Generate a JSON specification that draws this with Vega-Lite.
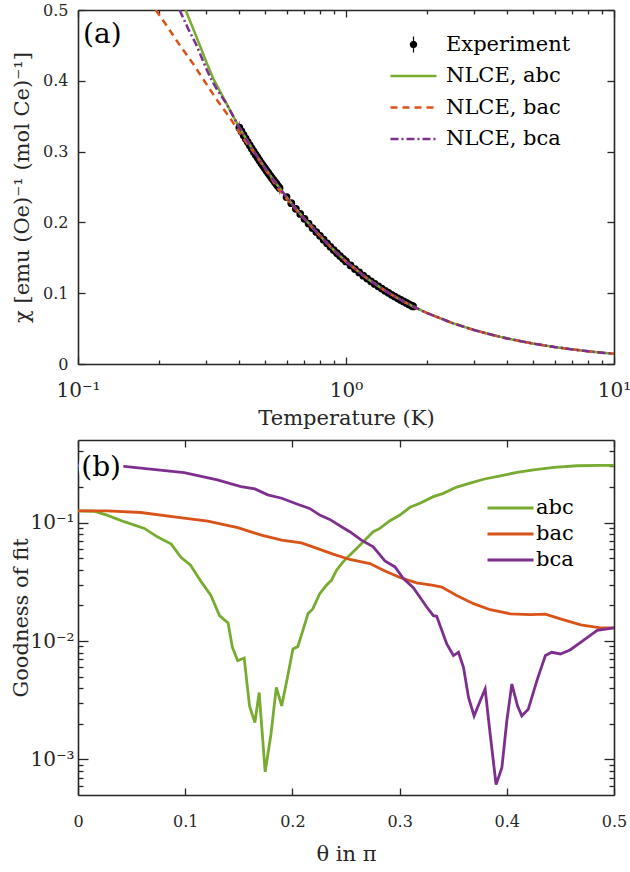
{
  "$schema": "https://vega.github.io/schema/vega-lite/v6.json",
  "background": "white",
  "padding": {"left": 10, "top": 2, "right": 12, "bottom": 0},
  "spacing": 11,
  "config": {
    "font": "DejaVu Serif",
    "view": {"stroke": null},
    "axis": {
      "labelFont": "DejaVu Serif", "titleFont": "DejaVu Serif",
      "labelColor": "#262626", "titleColor": "#262626",
      "domainColor": "#262626", "tickColor": "#262626",
      "domainWidth": 1.6, "tickWidth": 1.3,
      "labelFontSize": 16, "titleFontSize": 21, "titleFontWeight": "normal",
      "grid": false, "labelFlush": false, "labelOverlap": false, "labelBound": false
    },
    "legend": {"labelFont": "DejaVu Serif", "labelColor": "black"}
  },
  "resolve": {"scale": {"color": "independent", "strokeDash": "independent"}, "legend": {"color": "independent", "strokeDash": "independent"}},
  "datasets": {
    "fits": [
      {"T": 0.252, "chi": 0.5, "series": "NLCE, abc"},
      {"T": 0.27, "chi": 0.472, "series": "NLCE, abc"},
      {"T": 0.2845, "chi": 0.4506, "series": "NLCE, abc"},
      {"T": 0.30, "chi": 0.428, "series": "NLCE, abc"},
      {"T": 0.319, "chi": 0.404, "series": "NLCE, abc"},
      {"T": 0.34, "chi": 0.384, "series": "NLCE, abc"},
      {"T": 0.36, "chi": 0.3665, "series": "NLCE, abc"},
      {"T": 0.38, "chi": 0.3495, "series": "NLCE, abc"},
      {"T": 0.40, "chi": 0.3338, "series": "NLCE, abc"},
      {"T": 0.45, "chi": 0.302, "series": "NLCE, abc"},
      {"T": 0.50, "chi": 0.276, "series": "NLCE, abc"},
      {"T": 0.55, "chi": 0.2545, "series": "NLCE, abc"},
      {"T": 0.60, "chi": 0.2358, "series": "NLCE, abc"},
      {"T": 0.65, "chi": 0.2192, "series": "NLCE, abc"},
      {"T": 0.7, "chi": 0.205, "series": "NLCE, abc"},
      {"T": 0.8, "chi": 0.181, "series": "NLCE, abc"},
      {"T": 0.9, "chi": 0.1609, "series": "NLCE, abc"},
      {"T": 1.0, "chi": 0.1448, "series": "NLCE, abc"},
      {"T": 1.2, "chi": 0.1207, "series": "NLCE, abc"},
      {"T": 1.4, "chi": 0.1034, "series": "NLCE, abc"},
      {"T": 1.6, "chi": 0.0905, "series": "NLCE, abc"},
      {"T": 1.8, "chi": 0.0804, "series": "NLCE, abc"},
      {"T": 2.0, "chi": 0.0722, "series": "NLCE, abc"},
      {"T": 2.5, "chi": 0.0577, "series": "NLCE, abc"},
      {"T": 3.0, "chi": 0.0481, "series": "NLCE, abc"},
      {"T": 3.5, "chi": 0.0412, "series": "NLCE, abc"},
      {"T": 4.0, "chi": 0.036, "series": "NLCE, abc"},
      {"T": 5.0, "chi": 0.0288, "series": "NLCE, abc"},
      {"T": 6.0, "chi": 0.024, "series": "NLCE, abc"},
      {"T": 7.0, "chi": 0.0206, "series": "NLCE, abc"},
      {"T": 8.0, "chi": 0.018, "series": "NLCE, abc"},
      {"T": 9.0, "chi": 0.016, "series": "NLCE, abc"},
      {"T": 10, "chi": 0.0144, "series": "NLCE, abc"},

      {"T": 0.195, "chi": 0.5, "series": "NLCE, bac"},
      {"T": 0.215, "chi": 0.477, "series": "NLCE, bac"},
      {"T": 0.240, "chi": 0.45, "series": "NLCE, bac"},
      {"T": 0.27, "chi": 0.423, "series": "NLCE, bac"},
      {"T": 0.297, "chi": 0.399, "series": "NLCE, bac"},
      {"T": 0.33, "chi": 0.373, "series": "NLCE, bac"},
      {"T": 0.37, "chi": 0.347, "series": "NLCE, bac"},
      {"T": 0.41, "chi": 0.321, "series": "NLCE, bac"},
      {"T": 0.461, "chi": 0.295, "series": "NLCE, bac"},
      {"T": 0.51, "chi": 0.27, "series": "NLCE, bac"},
      {"T": 0.557, "chi": 0.248, "series": "NLCE, bac"},
      {"T": 0.60, "chi": 0.2335, "series": "NLCE, bac"},
      {"T": 0.65, "chi": 0.2185, "series": "NLCE, bac"},
      {"T": 0.7, "chi": 0.205, "series": "NLCE, bac"},
      {"T": 0.8, "chi": 0.181, "series": "NLCE, bac"},
      {"T": 0.9, "chi": 0.1609, "series": "NLCE, bac"},
      {"T": 1.0, "chi": 0.1448, "series": "NLCE, bac"},
      {"T": 1.2, "chi": 0.1207, "series": "NLCE, bac"},
      {"T": 1.4, "chi": 0.1034, "series": "NLCE, bac"},
      {"T": 1.6, "chi": 0.0905, "series": "NLCE, bac"},
      {"T": 1.8, "chi": 0.0804, "series": "NLCE, bac"},
      {"T": 2.0, "chi": 0.0722, "series": "NLCE, bac"},
      {"T": 2.5, "chi": 0.0577, "series": "NLCE, bac"},
      {"T": 3.0, "chi": 0.0481, "series": "NLCE, bac"},
      {"T": 3.5, "chi": 0.0412, "series": "NLCE, bac"},
      {"T": 4.0, "chi": 0.036, "series": "NLCE, bac"},
      {"T": 5.0, "chi": 0.0288, "series": "NLCE, bac"},
      {"T": 6.0, "chi": 0.024, "series": "NLCE, bac"},
      {"T": 7.0, "chi": 0.0206, "series": "NLCE, bac"},
      {"T": 8.0, "chi": 0.018, "series": "NLCE, bac"},
      {"T": 9.0, "chi": 0.016, "series": "NLCE, bac"},
      {"T": 10, "chi": 0.0144, "series": "NLCE, bac"},

      {"T": 0.2394, "chi": 0.5, "series": "NLCE, bca"},
      {"T": 0.258, "chi": 0.473, "series": "NLCE, bca"},
      {"T": 0.2766, "chi": 0.4506, "series": "NLCE, bca"},
      {"T": 0.295, "chi": 0.425, "series": "NLCE, bca"},
      {"T": 0.312, "chi": 0.404, "series": "NLCE, bca"},
      {"T": 0.33, "chi": 0.388, "series": "NLCE, bca"},
      {"T": 0.36, "chi": 0.366, "series": "NLCE, bca"},
      {"T": 0.40, "chi": 0.3338, "series": "NLCE, bca"},
      {"T": 0.45, "chi": 0.302, "series": "NLCE, bca"},
      {"T": 0.50, "chi": 0.276, "series": "NLCE, bca"},
      {"T": 0.55, "chi": 0.2545, "series": "NLCE, bca"},
      {"T": 0.60, "chi": 0.2358, "series": "NLCE, bca"},
      {"T": 0.65, "chi": 0.2192, "series": "NLCE, bca"},
      {"T": 0.7, "chi": 0.205, "series": "NLCE, bca"},
      {"T": 0.8, "chi": 0.181, "series": "NLCE, bca"},
      {"T": 0.9, "chi": 0.1609, "series": "NLCE, bca"},
      {"T": 1.0, "chi": 0.1448, "series": "NLCE, bca"},
      {"T": 1.2, "chi": 0.1207, "series": "NLCE, bca"},
      {"T": 1.4, "chi": 0.1034, "series": "NLCE, bca"},
      {"T": 1.6, "chi": 0.0905, "series": "NLCE, bca"},
      {"T": 1.8, "chi": 0.0804, "series": "NLCE, bca"},
      {"T": 2.0, "chi": 0.0722, "series": "NLCE, bca"},
      {"T": 2.5, "chi": 0.0577, "series": "NLCE, bca"},
      {"T": 3.0, "chi": 0.0481, "series": "NLCE, bca"},
      {"T": 3.5, "chi": 0.0412, "series": "NLCE, bca"},
      {"T": 4.0, "chi": 0.036, "series": "NLCE, bca"},
      {"T": 5.0, "chi": 0.0288, "series": "NLCE, bca"},
      {"T": 6.0, "chi": 0.024, "series": "NLCE, bca"},
      {"T": 7.0, "chi": 0.0206, "series": "NLCE, bca"},
      {"T": 8.0, "chi": 0.018, "series": "NLCE, bca"},
      {"T": 9.0, "chi": 0.016, "series": "NLCE, bca"},
      {"T": 10, "chi": 0.0144, "series": "NLCE, bca"}
    ],
    "expt": [
      {"T": 0.400, "chi": 0.3338, "err": 0.009, "series": "Experiment"},
      {"T": 0.4075, "chi": 0.3284, "err": 0.009, "series": "Experiment"},
      {"T": 0.415, "chi": 0.3232, "err": 0.009, "series": "Experiment"},
      {"T": 0.4225, "chi": 0.3182, "err": 0.009, "series": "Experiment"},
      {"T": 0.430, "chi": 0.3134, "err": 0.009, "series": "Experiment"},
      {"T": 0.4375, "chi": 0.3088, "err": 0.009, "series": "Experiment"},
      {"T": 0.445, "chi": 0.3043, "err": 0.009, "series": "Experiment"},
      {"T": 0.4525, "chi": 0.2999, "err": 0.009, "series": "Experiment"},
      {"T": 0.460, "chi": 0.2957, "err": 0.009, "series": "Experiment"},
      {"T": 0.4675, "chi": 0.2917, "err": 0.009, "series": "Experiment"},
      {"T": 0.475, "chi": 0.2877, "err": 0.009, "series": "Experiment"},
      {"T": 0.4825, "chi": 0.2839, "err": 0.009, "series": "Experiment"},
      {"T": 0.490, "chi": 0.2802, "err": 0.009, "series": "Experiment"},
      {"T": 0.4975, "chi": 0.2767, "err": 0.009, "series": "Experiment"},
      {"T": 0.505, "chi": 0.2732, "err": 0.009, "series": "Experiment"},
      {"T": 0.5125, "chi": 0.2698, "err": 0.009, "series": "Experiment"},
      {"T": 0.520, "chi": 0.2665, "err": 0.009, "series": "Experiment"},
      {"T": 0.5275, "chi": 0.2633, "err": 0.009, "series": "Experiment"},
      {"T": 0.535, "chi": 0.2602, "err": 0.009, "series": "Experiment"},
      {"T": 0.5425, "chi": 0.2572, "err": 0.009, "series": "Experiment"},
      {"T": 0.550, "chi": 0.2543, "err": 0.009, "series": "Experiment"},
      {"T": 0.5575, "chi": 0.2514, "err": 0.009, "series": "Experiment"},
      {"T": 0.565, "chi": 0.2487, "err": 0.009, "series": "Experiment"},
      {"T": 0.600, "chi": 0.2358, "err": 0.004, "series": "Experiment"},
      {"T": 0.625, "chi": 0.2272, "err": 0.004, "series": "Experiment"},
      {"T": 0.650, "chi": 0.2192, "err": 0.004, "series": "Experiment"},
      {"T": 0.675, "chi": 0.2119, "err": 0.004, "series": "Experiment"},
      {"T": 0.700, "chi": 0.2050, "err": 0.004, "series": "Experiment"},
      {"T": 0.725, "chi": 0.1983, "err": 0.004, "series": "Experiment"},
      {"T": 0.750, "chi": 0.1920, "err": 0.004, "series": "Experiment"},
      {"T": 0.775, "chi": 0.1863, "err": 0.004, "series": "Experiment"},
      {"T": 0.800, "chi": 0.1810, "err": 0.004, "series": "Experiment"},
      {"T": 0.825, "chi": 0.1755, "err": 0.004, "series": "Experiment"},
      {"T": 0.850, "chi": 0.1704, "err": 0.004, "series": "Experiment"},
      {"T": 0.875, "chi": 0.1655, "err": 0.004, "series": "Experiment"},
      {"T": 0.900, "chi": 0.1609, "err": 0.004, "series": "Experiment"},
      {"T": 0.925, "chi": 0.1565, "err": 0.004, "series": "Experiment"},
      {"T": 0.950, "chi": 0.1524, "err": 0.004, "series": "Experiment"},
      {"T": 0.975, "chi": 0.1485, "err": 0.004, "series": "Experiment"},
      {"T": 1.000, "chi": 0.1448, "err": 0.004, "series": "Experiment"},
      {"T": 1.04, "chi": 0.1392, "err": 0.004, "series": "Experiment"},
      {"T": 1.08, "chi": 0.1341, "err": 0.004, "series": "Experiment"},
      {"T": 1.12, "chi": 0.1293, "err": 0.004, "series": "Experiment"},
      {"T": 1.16, "chi": 0.1248, "err": 0.004, "series": "Experiment"},
      {"T": 1.20, "chi": 0.1207, "err": 0.004, "series": "Experiment"},
      {"T": 1.24, "chi": 0.1168, "err": 0.004, "series": "Experiment"},
      {"T": 1.28, "chi": 0.1131, "err": 0.004, "series": "Experiment"},
      {"T": 1.32, "chi": 0.1097, "err": 0.004, "series": "Experiment"},
      {"T": 1.36, "chi": 0.1065, "err": 0.004, "series": "Experiment"},
      {"T": 1.40, "chi": 0.1034, "err": 0.004, "series": "Experiment"},
      {"T": 1.44, "chi": 0.1006, "err": 0.004, "series": "Experiment"},
      {"T": 1.48, "chi": 0.0978, "err": 0.004, "series": "Experiment"},
      {"T": 1.52, "chi": 0.0953, "err": 0.004, "series": "Experiment"},
      {"T": 1.56, "chi": 0.0928, "err": 0.004, "series": "Experiment"},
      {"T": 1.60, "chi": 0.0905, "err": 0.004, "series": "Experiment"},
      {"T": 1.64, "chi": 0.0883, "err": 0.004, "series": "Experiment"},
      {"T": 1.68, "chi": 0.0862, "err": 0.004, "series": "Experiment"},
      {"T": 1.72, "chi": 0.0842, "err": 0.004, "series": "Experiment"},
      {"T": 1.76, "chi": 0.0823, "err": 0.004, "series": "Experiment"},
      {"T": 1.78, "chi": 0.0813, "err": 0.004, "series": "Experiment"}
    ],
    "gof": [
      {"theta": 0, "v": 0.126, "fit": "abc"},
      {"theta": 0.015, "v": 0.125, "fit": "abc"},
      {"theta": 0.027, "v": 0.116, "fit": "abc"},
      {"theta": 0.043, "v": 0.102, "fit": "abc"},
      {"theta": 0.062, "v": 0.0895, "fit": "abc"},
      {"theta": 0.074, "v": 0.076, "fit": "abc"},
      {"theta": 0.087, "v": 0.066, "fit": "abc"},
      {"theta": 0.096, "v": 0.051, "fit": "abc"},
      {"theta": 0.105, "v": 0.0437, "fit": "abc"},
      {"theta": 0.115, "v": 0.0316, "fit": "abc"},
      {"theta": 0.124, "v": 0.0243, "fit": "abc"},
      {"theta": 0.132, "v": 0.0164, "fit": "abc"},
      {"theta": 0.140, "v": 0.0142, "fit": "abc"},
      {"theta": 0.144, "v": 0.00886, "fit": "abc"},
      {"theta": 0.149, "v": 0.00682, "fit": "abc"},
      {"theta": 0.155, "v": 0.0072, "fit": "abc"},
      {"theta": 0.160, "v": 0.00283, "fit": "abc"},
      {"theta": 0.165, "v": 0.00205, "fit": "abc"},
      {"theta": 0.169, "v": 0.00367, "fit": "abc"},
      {"theta": 0.1746, "v": 0.000785, "fit": "abc"},
      {"theta": 0.180, "v": 0.00163, "fit": "abc"},
      {"theta": 0.185, "v": 0.00406, "fit": "abc"},
      {"theta": 0.190, "v": 0.00283, "fit": "abc"},
      {"theta": 0.196, "v": 0.00526, "fit": "abc"},
      {"theta": 0.2005, "v": 0.00857, "fit": "abc"},
      {"theta": 0.205, "v": 0.00897, "fit": "abc"},
      {"theta": 0.2098, "v": 0.0123, "fit": "abc"},
      {"theta": 0.2145, "v": 0.017, "fit": "abc"},
      {"theta": 0.219, "v": 0.0187, "fit": "abc"},
      {"theta": 0.2255, "v": 0.0251, "fit": "abc"},
      {"theta": 0.2317, "v": 0.0296, "fit": "abc"},
      {"theta": 0.2364, "v": 0.0326, "fit": "abc"},
      {"theta": 0.2411, "v": 0.0396, "fit": "abc"},
      {"theta": 0.2473, "v": 0.0467, "fit": "abc"},
      {"theta": 0.2551, "v": 0.0549, "fit": "abc"},
      {"theta": 0.2629, "v": 0.0646, "fit": "abc"},
      {"theta": 0.2691, "v": 0.0736, "fit": "abc"},
      {"theta": 0.2754, "v": 0.0839, "fit": "abc"},
      {"theta": 0.2816, "v": 0.0895, "fit": "abc"},
      {"theta": 0.291, "v": 0.104, "fit": "abc"},
      {"theta": 0.3003, "v": 0.116, "fit": "abc"},
      {"theta": 0.3097, "v": 0.135, "fit": "abc"},
      {"theta": 0.319, "v": 0.146, "fit": "abc"},
      {"theta": 0.3315, "v": 0.166, "fit": "abc"},
      {"theta": 0.3408, "v": 0.177, "fit": "abc"},
      {"theta": 0.3533, "v": 0.2, "fit": "abc"},
      {"theta": 0.3658, "v": 0.216, "fit": "abc"},
      {"theta": 0.3783, "v": 0.233, "fit": "abc"},
      {"theta": 0.394, "v": 0.249, "fit": "abc"},
      {"theta": 0.4095, "v": 0.266, "fit": "abc"},
      {"theta": 0.425, "v": 0.28, "fit": "abc"},
      {"theta": 0.444, "v": 0.293, "fit": "abc"},
      {"theta": 0.4656, "v": 0.303, "fit": "abc"},
      {"theta": 0.4874, "v": 0.305, "fit": "abc"},
      {"theta": 0.5, "v": 0.305, "fit": "abc"},

      {"theta": 0, "v": 0.126, "fit": "bac"},
      {"theta": 0.027, "v": 0.126, "fit": "bac"},
      {"theta": 0.0586, "v": 0.122, "fit": "bac"},
      {"theta": 0.0898, "v": 0.112, "fit": "bac"},
      {"theta": 0.121, "v": 0.103, "fit": "bac"},
      {"theta": 0.149, "v": 0.0907, "fit": "bac"},
      {"theta": 0.171, "v": 0.0786, "fit": "bac"},
      {"theta": 0.19, "v": 0.0713, "fit": "bac"},
      {"theta": 0.2083, "v": 0.0676, "fit": "bac"},
      {"theta": 0.219, "v": 0.0625, "fit": "bac"},
      {"theta": 0.238, "v": 0.0542, "fit": "bac"},
      {"theta": 0.2535, "v": 0.0489, "fit": "bac"},
      {"theta": 0.2723, "v": 0.0452, "fit": "bac"},
      {"theta": 0.2848, "v": 0.0397, "fit": "bac"},
      {"theta": 0.3003, "v": 0.0344, "fit": "bac"},
      {"theta": 0.3159, "v": 0.031, "fit": "bac"},
      {"theta": 0.3315, "v": 0.0296, "fit": "bac"},
      {"theta": 0.3393, "v": 0.0286, "fit": "bac"},
      {"theta": 0.3533, "v": 0.0243, "fit": "bac"},
      {"theta": 0.3689, "v": 0.0207, "fit": "bac"},
      {"theta": 0.3845, "v": 0.0184, "fit": "bac"},
      {"theta": 0.4032, "v": 0.017, "fit": "bac"},
      {"theta": 0.422, "v": 0.0167, "fit": "bac"},
      {"theta": 0.436, "v": 0.0169, "fit": "bac"},
      {"theta": 0.45, "v": 0.0154, "fit": "bac"},
      {"theta": 0.469, "v": 0.0137, "fit": "bac"},
      {"theta": 0.4874, "v": 0.0129, "fit": "bac"},
      {"theta": 0.5, "v": 0.0129, "fit": "bac"},

      {"theta": 0, "v": 0.305, "fit": "bca"},
      {"theta": 0.043, "v": 0.299, "fit": "bca"},
      {"theta": 0.099, "v": 0.265, "fit": "bca"},
      {"theta": 0.13, "v": 0.23, "fit": "bca"},
      {"theta": 0.152, "v": 0.202, "fit": "bca"},
      {"theta": 0.165, "v": 0.193, "fit": "bca"},
      {"theta": 0.177, "v": 0.172, "fit": "bca"},
      {"theta": 0.19, "v": 0.161, "fit": "bca"},
      {"theta": 0.2067, "v": 0.141, "fit": "bca"},
      {"theta": 0.216, "v": 0.132, "fit": "bca"},
      {"theta": 0.2255, "v": 0.116, "fit": "bca"},
      {"theta": 0.2348, "v": 0.1067, "fit": "bca"},
      {"theta": 0.2473, "v": 0.0907, "fit": "bca"},
      {"theta": 0.2535, "v": 0.0839, "fit": "bca"},
      {"theta": 0.2644, "v": 0.0713, "fit": "bca"},
      {"theta": 0.2754, "v": 0.0625, "fit": "bca"},
      {"theta": 0.2863, "v": 0.0475, "fit": "bca"},
      {"theta": 0.2957, "v": 0.0423, "fit": "bca"},
      {"theta": 0.3035, "v": 0.0337, "fit": "bca"},
      {"theta": 0.3128, "v": 0.0282, "fit": "bca"},
      {"theta": 0.3253, "v": 0.0194, "fit": "bca"},
      {"theta": 0.3315, "v": 0.0164, "fit": "bca"},
      {"theta": 0.3346, "v": 0.0162, "fit": "bca"},
      {"theta": 0.344, "v": 0.00946, "fit": "bca"},
      {"theta": 0.3502, "v": 0.00754, "fit": "bca"},
      {"theta": 0.3549, "v": 0.00804, "fit": "bca"},
      {"theta": 0.3596, "v": 0.006, "fit": "bca"},
      {"theta": 0.3643, "v": 0.00334, "fit": "bca"},
      {"theta": 0.3695, "v": 0.00233, "fit": "bca"},
      {"theta": 0.3752, "v": 0.00313, "fit": "bca"},
      {"theta": 0.3798, "v": 0.00393, "fit": "bca"},
      {"theta": 0.3845, "v": 0.00163, "fit": "bca"},
      {"theta": 0.39, "v": 0.000612, "fit": "bca"},
      {"theta": 0.3954, "v": 0.000849, "fit": "bca"},
      {"theta": 0.4, "v": 0.00211, "fit": "bca"},
      {"theta": 0.4047, "v": 0.00433, "fit": "bca"},
      {"theta": 0.41, "v": 0.00283, "fit": "bca"},
      {"theta": 0.414, "v": 0.00233, "fit": "bca"},
      {"theta": 0.42, "v": 0.00265, "fit": "bca"},
      {"theta": 0.428, "v": 0.00461, "fit": "bca"},
      {"theta": 0.436, "v": 0.00754, "fit": "bca"},
      {"theta": 0.442, "v": 0.00804, "fit": "bca"},
      {"theta": 0.45, "v": 0.00778, "fit": "bca"},
      {"theta": 0.459, "v": 0.00841, "fit": "bca"},
      {"theta": 0.4718, "v": 0.0102, "fit": "bca"},
      {"theta": 0.4843, "v": 0.0123, "fit": "bca"},
      {"theta": 0.5, "v": 0.0129, "fit": "bca"}
    ]
  },
  "vconcat": [
    {
      "width": 536,
      "height": 354,
      "resolve": {"axis": {"x": "independent", "y": "independent"}},
      "layer": [
        {
          "data": {"name": "expt"},
          "mark": {"type": "errorbar", "color": "#6e6e6e", "thickness": 1, "ticks": false},
          "encoding": {
            "x": {"field": "T", "type": "quantitative", "scale": {"type": "log", "domain": [0.1, 10]}, "axis": null},
            "y": {"field": "chi", "type": "quantitative", "scale": {"domain": [0, 0.5]}, "axis": null},
            "yError": {"field": "err"}
          }
        },
        {
          "data": {"name": "expt"},
          "mark": {"type": "point", "filled": true, "size": 60, "opacity": 1},
          "encoding": {
            "x": {"field": "T", "type": "quantitative", "scale": {"type": "log", "domain": [0.1, 10]}, "axis": null},
            "y": {"field": "chi", "type": "quantitative", "scale": {"domain": [0, 0.5]}, "axis": null},
            "color": {
              "field": "series", "type": "nominal",
              "scale": {"domain": ["Experiment", "NLCE, abc", "NLCE, bac", "NLCE, bca"], "range": ["#000000", "#77AC30", "#D95319", "#7E2F8E"]},
              "legend": {
                "title": null, "orient": "none", "legendX": 325, "legendY": 24,
                "symbolType": "M-3,0H3", "symbolSize": 235, "symbolStrokeWidth": 2.5,
                "labelFontSize": 21, "labelOffset": 22, "rowPadding": 9.5, "padding": 0,
                "encode": {"symbols": {"update": {
                  "shape": {"signal": "datum.value === 'Experiment' ? 'M0,-1.05V1.05M0.4,0A0.4,0.4 0 1,1 -0.4,0A0.4,0.4 0 1,1 0.4,0Z' : 'M-3,0H3'"},
                  "fill": {"signal": "datum.value === 'Experiment' ? '#000000' : 'transparent'"},
                  "strokeWidth": {"signal": "datum.value === 'Experiment' ? 1.2 : 2.5"}
                }}}
              }
            }
          }
        },
        {
          "data": {"name": "fits"},
          "mark": {"type": "line", "strokeWidth": 2.5, "clip": true},
          "encoding": {
            "x": {
              "field": "T", "type": "quantitative", "scale": {"type": "log", "domain": [0.1, 10]},
              "axis": {
                "orient": "bottom", "title": "Temperature (K)",
                "values": [0.1, 0.2, 0.3, 0.4, 0.5, 0.6, 0.7, 0.8, 0.9, 1, 2, 3, 4, 5, 6, 7, 8, 9, 10],
                "labelExpr": "datum.value == 0.1 ? '10⁻¹' : datum.value == 1 ? '10⁰' : datum.value == 10 ? '10¹' : ''",
                "tickSize": {"condition": {"test": "datum.value == 0.1 || datum.value == 1 || datum.value == 10", "value": -7}, "value": -4},
                "labelPadding": 23, "labelFontSize": 20, "titlePadding": 4
              }
            },
            "y": {
              "field": "chi", "type": "quantitative", "scale": {"domain": [0, 0.5]},
              "axis": {
                "orient": "left", "title": "χ [emu (Oe)⁻¹ (mol Ce)⁻¹]",
                "values": [0, 0.1, 0.2, 0.3, 0.4, 0.5], "format": "~g",
                "tickSize": -7, "labelPadding": 17, "titlePadding": 10
              }
            },
            "color": {
              "field": "series", "type": "nominal",
              "scale": {"domain": ["Experiment", "NLCE, abc", "NLCE, bac", "NLCE, bca"], "range": ["#000000", "#77AC30", "#D95319", "#7E2F8E"]},
              "legend": {
                "title": null, "orient": "none", "legendX": 325, "legendY": 24,
                "symbolType": "M-3,0H3", "symbolSize": 235, "symbolStrokeWidth": 2.5,
                "labelFontSize": 21, "labelOffset": 22, "rowPadding": 9.5, "padding": 0,
                "encode": {"symbols": {"update": {
                  "shape": {"signal": "datum.value === 'Experiment' ? 'M0,-1.05V1.05M0.4,0A0.4,0.4 0 1,1 -0.4,0A0.4,0.4 0 1,1 0.4,0Z' : 'M-3,0H3'"},
                  "fill": {"signal": "datum.value === 'Experiment' ? '#000000' : 'transparent'"},
                  "strokeWidth": {"signal": "datum.value === 'Experiment' ? 1.2 : 2.5"}
                }}}
              }
            },
            "strokeDash": {
              "field": "series", "type": "nominal",
              "scale": {"domain": ["Experiment", "NLCE, abc", "NLCE, bac", "NLCE, bca"], "range": [[1, 0], [1, 0], [7, 5], [8, 3, 2, 3]]},
              "legend": {
                "title": null, "orient": "none", "legendX": 325, "legendY": 24,
                "symbolType": "M-3,0H3", "symbolSize": 235, "symbolStrokeWidth": 2.5,
                "labelFontSize": 21, "labelOffset": 22, "rowPadding": 9.5, "padding": 0,
                "encode": {"symbols": {"update": {
                  "shape": {"signal": "datum.value === 'Experiment' ? 'M0,-1.05V1.05M0.4,0A0.4,0.4 0 1,1 -0.4,0A0.4,0.4 0 1,1 0.4,0Z' : 'M-3,0H3'"},
                  "fill": {"signal": "datum.value === 'Experiment' ? '#000000' : 'transparent'"},
                  "strokeWidth": {"signal": "datum.value === 'Experiment' ? 1.2 : 2.5"}
                }}}
              }
            }
          }
        },
        {
          "data": {"values": [{"label": "(a)"}]},
          "mark": {"type": "text", "align": "left", "baseline": "middle", "font": "DejaVu Serif", "fontSize": 28, "color": "#000000"},
          "encoding": {
            "x": {"datum": 0.1044, "type": "quantitative", "scale": {"type": "log", "domain": [0.1, 10]}, "axis": null},
            "y": {"datum": 0.464, "type": "quantitative", "scale": {"domain": [0, 0.5]}, "axis": null},
            "text": {"field": "label"}
          }
        },
        {
          "data": {"name": "fits"},
          "mark": {"type": "point", "opacity": 0},
          "encoding": {
            "x": {
              "field": "T", "type": "quantitative", "scale": {"type": "log", "domain": [0.1, 10]},
              "axis": {
                "orient": "top", "title": null, "labels": false,
                "values": [0.1, 0.2, 0.3, 0.4, 0.5, 0.6, 0.7, 0.8, 0.9, 1, 2, 3, 4, 5, 6, 7, 8, 9, 10],
                "tickSize": {"condition": {"test": "datum.value == 0.1 || datum.value == 1 || datum.value == 10", "value": -7}, "value": -4}
              }
            },
            "y": {
              "field": "chi", "type": "quantitative", "scale": {"domain": [0, 0.5]},
              "axis": {"orient": "right", "title": null, "labels": false, "values": [0, 0.1, 0.2, 0.3, 0.4, 0.5], "tickSize": -7}
            }
          }
        }
      ]
    },
    {
      "width": 536,
      "height": 355,
      "resolve": {"axis": {"x": "independent", "y": "independent"}},
      "layer": [
        {
          "data": {"name": "gof"},
          "mark": {"type": "line", "strokeWidth": 2.8, "clip": true},
          "encoding": {
            "x": {
              "field": "theta", "type": "quantitative", "scale": {"domain": [0, 0.5]},
              "axis": {
                "orient": "bottom", "title": "θ in π",
                "values": [0, 0.1, 0.2, 0.3, 0.4, 0.5], "format": "~g",
                "tickSize": -7, "labelPadding": 25, "titlePadding": 14
              }
            },
            "y": {
              "field": "v", "type": "quantitative", "scale": {"type": "log", "domain": [0.0005, 0.5]},
              "axis": {
                "orient": "left", "title": "Goodness of fit",
                "values": [0.0006, 0.0007, 0.0008, 0.0009, 0.001, 0.002, 0.003, 0.004, 0.005, 0.006, 0.007, 0.008, 0.009, 0.01, 0.02, 0.03, 0.04, 0.05, 0.06, 0.07, 0.08, 0.09, 0.1, 0.2, 0.3, 0.4],
                "labelExpr": "datum.value == 0.1 ? '10⁻¹' : datum.value == 0.01 ? '10⁻²' : datum.value == 0.001 ? '10⁻³' : ''",
                "tickSize": {"condition": {"test": "datum.value == 0.1 || datum.value == 0.01 || datum.value == 0.001", "value": -10}, "value": -5},
                "labelPadding": 14, "labelFontSize": 20, "titlePadding": -2
              }
            },
            "color": {
              "field": "fit", "type": "nominal",
              "scale": {"domain": ["abc", "bac", "bca"], "range": ["#77AC30", "#D95319", "#7E2F8E"]},
              "legend": {
                "title": null, "orient": "none", "legendX": 422, "legendY": 57.5,
                "symbolType": "M-3,0H3", "symbolSize": 235, "symbolStrokeWidth": 3,
                "labelFontSize": 21, "labelOffset": 15, "rowPadding": 4, "padding": 0
              }
            }
          }
        },
        {
          "data": {"values": [{"label": "(b)"}]},
          "mark": {"type": "text", "align": "left", "baseline": "middle", "font": "DejaVu Serif", "fontSize": 28, "fill": "#ffffff", "stroke": "#ffffff", "strokeWidth": 9},
          "encoding": {
            "x": {"datum": 0.003, "type": "quantitative", "scale": {"domain": [0, 0.5]}, "axis": null},
            "y": {"datum": 0.289, "type": "quantitative", "scale": {"type": "log", "domain": [0.0005, 0.5]}, "axis": null},
            "text": {"field": "label"}
          }
        },
        {
          "data": {"values": [{"label": "(b)"}]},
          "mark": {"type": "text", "align": "left", "baseline": "middle", "font": "DejaVu Serif", "fontSize": 28, "color": "#000000"},
          "encoding": {
            "x": {"datum": 0.003, "type": "quantitative", "scale": {"domain": [0, 0.5]}, "axis": null},
            "y": {"datum": 0.289, "type": "quantitative", "scale": {"type": "log", "domain": [0.0005, 0.5]}, "axis": null},
            "text": {"field": "label"}
          }
        },
        {
          "data": {"name": "gof"},
          "mark": {"type": "point", "opacity": 0},
          "encoding": {
            "x": {
              "field": "theta", "type": "quantitative", "scale": {"domain": [0, 0.5]},
              "axis": {"orient": "top", "title": null, "labels": false, "values": [0, 0.1, 0.2, 0.3, 0.4, 0.5], "tickSize": -7}
            },
            "y": {
              "field": "v", "type": "quantitative", "scale": {"type": "log", "domain": [0.0005, 0.5]},
              "axis": {
                "orient": "right", "title": null, "labels": false,
                "values": [0.0006, 0.0007, 0.0008, 0.0009, 0.001, 0.002, 0.003, 0.004, 0.005, 0.006, 0.007, 0.008, 0.009, 0.01, 0.02, 0.03, 0.04, 0.05, 0.06, 0.07, 0.08, 0.09, 0.1, 0.2, 0.3, 0.4],
                "tickSize": {"condition": {"test": "datum.value == 0.1 || datum.value == 0.01 || datum.value == 0.001", "value": -10}, "value": -5}
              }
            }
          }
        }
      ]
    }
  ]
}
